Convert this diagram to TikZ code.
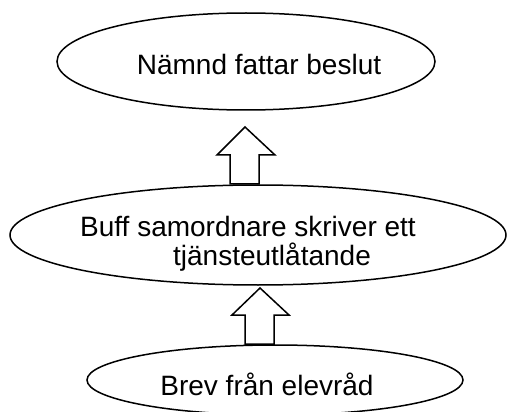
\documentclass[tikz,border=0pt]{standalone}
\usepackage{fontspec}
\setmainfont{Liberation Sans}
\usetikzlibrary{shapes.geometric}
\begin{document}
\begin{tikzpicture}[x=1pt,y=-1pt,
  oval/.style={draw,line width=1.5pt,ellipse,inner sep=0pt},
  lbl/.style={inner sep=0pt,font=\fontsize{28}{31}\selectfont,align=center},
  blockarrow/.style={draw,line width=1.5pt,fill=white,line join=miter}]
\useasboundingbox (0,0) rectangle (507,412);
\node[oval,minimum width=378pt,minimum height=97pt] (top) at (246,61.5) {};
\node[oval,minimum width=496pt,minimum height=100pt] (mid) at (258,235) {};
\node[oval,minimum width=376pt,minimum height=70pt] (bot) at (275,380) {};
\node[lbl] (ttop) at (259,64) {Nämnd fattar beslut};
\node[lbl,anchor=center] (tmid1) at (248,226) {Buff samordnare skriver ett};
\node[lbl,anchor=center] (tmid2) at (272,257) {tjänsteutlåtande};
\node[lbl] (tbot) at (267,384) {Brev från elevråd};
\draw[blockarrow] (245,127) -- (275,155) -- (259,155) -- (259,184) -- (230,184) -- (230,155) -- (217,155) -- cycle;
\draw[blockarrow] (260,288) -- (289,315) -- (274,315) -- (274,344) -- (245,344) -- (245,315) -- (232,315) -- cycle;
\end{tikzpicture}
\end{document}
